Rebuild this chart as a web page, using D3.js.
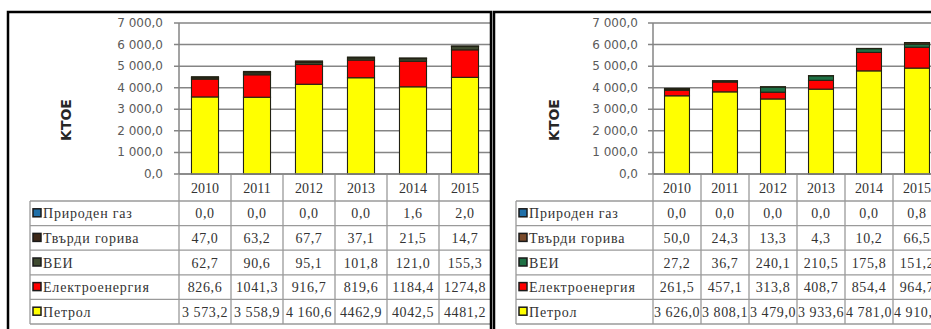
<!DOCTYPE html>
<html>
<head>
<meta charset="utf-8">
<script src="https://cdn.jsdelivr.net/npm/d3@7"></script>
<style>
  body { margin: 0; background: #fff; }
  svg { display: block; }
</style>
</head>
<body>
<svg id="chart" width="931" height="329"></svg>
<script>
var years = ["2010", "2011", "2012", "2013", "2014", "2015"];
var series = ["Природен газ", "Твърди горива", "ВЕИ", "Електроенергия", "Петрол"];

// left panel
var gasA = [0.0, 0.0, 0.0, 0.0, 1.6, 2.0];
var solidA = [47.0, 63.2, 67.7, 37.1, 21.5, 14.7];
var reA = [62.7, 90.6, 95.1, 101.8, 121.0, 155.3];
var elecA = [826.6, 1041.3, 916.7, 819.6, 1184.4, 1274.8];
var petrolA = [3573.2, 3558.9, 4160.6, 4462.9, 4042.5, 4481.2];
var petrolGroupA = [true, true, true, false, false, false];

// right panel
var gasB = [0.0, 0.0, 0.0, 0.0, 0.0, 0.8];
var solidB = [50.0, 24.3, 13.3, 4.3, 10.2, 66.5];
var reB = [27.2, 36.7, 240.1, 210.5, 175.8, 151.2];
var elecB = [261.5, 457.1, 313.8, 408.7, 854.4, 964.7];
var petrolB = [3626.0, 3808.1, 3479.0, 3933.6, 4781.0, 4910.0];
var petrolGroupB = [true, true, true, true, true, true];

var yTicks = [0, 1000, 2000, 3000, 4000, 5000, 6000, 7000];

var colors = {
  "Природен газ": "#1f6fa8",
  "Твърди горива": "#6b3f22",
  "ВЕИ": "#2c6a45",
  "Електроенергия": "#ff0000",
  "Петрол": "#ffff00"
};

var loc = d3.formatLocale({decimal: ",", thousands: "\u00a0", grouping: [3], currency: ["", ""]});
var fmtTick = loc.format(",.1f");
var fmtPlain = loc.format(".1f");

var svg = d3.select("#chart");

var y = d3.scaleLinear().domain([0, 7000]).range([174, 23]);

function panel(opt) {
  var g = svg.append("g");
  var x = d3.scaleBand().domain(years)
    .range([opt.x0, opt.x0 + years.length * opt.step])
    .paddingInner(0.48).paddingOuter(0.24);

  // gridlines
  g.selectAll(".grid").data(yTicks).enter().append("line")
    .attr("x1", opt.x0 - 5).attr("x2", opt.x0 + years.length * opt.step)
    .attr("y1", function(d) { return y(d); }).attr("y2", function(d) { return y(d); })
    .attr("stroke", "#858585").attr("stroke-width", 1.5);
  g.append("line")
    .attr("x1", opt.x0).attr("x2", opt.x0)
    .attr("y1", y(7000)).attr("y2", y(0))
    .attr("stroke", "#858585").attr("stroke-width", 1.5);

  // y labels
  g.selectAll(".yl").data(yTicks).enter().append("text")
    .attr("x", opt.labelX).attr("y", function(d) { return y(d) + 4; })
    .attr("text-anchor", "end")
    .style("font-family", "DejaVu Sans").style("font-size", "12px")
    .attr("fill", "#5a5a5a")
    .text(function(d) { return fmtTick(d); });

  g.append("text")
    .attr("transform", "translate(" + opt.titleX + ",120) rotate(-90)")
    .attr("text-anchor", "middle")
    .style("font-family", "DejaVu Sans").style("font-size", "14px").style("font-weight", "bold")
    .attr("fill", "#262626")
    .text("KTOE");

  // stacked bars
  var rows = years.map(function(yr, i) {
    var o = {year: yr};
    series.forEach(function(s) { o[s] = opt.data[s][i]; });
    return o;
  });
  var order = series.slice().reverse();
  var stack = d3.stack().keys(order)(rows);
  g.selectAll(".layer").data(stack).enter().append("g")
    .attr("fill", function(d) { return opt.colors[d.key]; })
    .selectAll("rect").data(function(d) { return d; }).enter().append("rect")
    .attr("x", function(d) { return x(d.data.year); })
    .attr("width", x.bandwidth())
    .attr("y", function(d) { return y(d[1]); })
    .attr("height", function(d) { return y(d[0]) - y(d[1]); })
    .attr("stroke", "#222214").attr("stroke-width", 1.1);

  // data table
  var lineColor = "#9a9a9a";
  var headTop = 174, headBottom = 201, rowH = 24.6;
  var right = opt.x0 + years.length * opt.step;
  var tableBottom = headBottom + series.length * rowH;
  var cols = d3.range(years.length + 1).map(function(i) { return opt.x0 + i * opt.step; });

  g.selectAll(".vcol").data(cols).enter().append("line")
    .attr("x1", function(d) { return d; }).attr("x2", function(d) { return d; })
    .attr("y1", headTop).attr("y2", tableBottom)
    .attr("stroke", lineColor).attr("stroke-width", 1.3);
  g.append("line")
    .attr("x1", opt.tableX).attr("x2", opt.tableX)
    .attr("y1", headBottom).attr("y2", tableBottom)
    .attr("stroke", lineColor).attr("stroke-width", 1.3);
  g.selectAll(".hrow").data(d3.range(series.length + 1)).enter().append("line")
    .attr("x1", opt.tableX).attr("x2", right)
    .attr("y1", function(i) { return headBottom + i * rowH; })
    .attr("y2", function(i) { return headBottom + i * rowH; })
    .attr("stroke", lineColor).attr("stroke-width", 1.3);
  g.append("line")
    .attr("x1", opt.x0).attr("x2", right).attr("y1", headTop).attr("y2", headTop)
    .attr("stroke", "#858585").attr("stroke-width", 1.5);

  var serif = "Liberation Serif";
  g.selectAll(".yh").data(years).enter().append("text")
    .attr("x", function(d) { return x(d) + x.bandwidth() / 2; })
    .attr("y", (headTop + headBottom) / 2 + 5)
    .attr("text-anchor", "middle")
    .style("font-family", serif).style("font-size", "14px")
    .attr("fill", "#333")
    .text(function(d) { return d; });

  series.forEach(function(s, r) {
    var cy = headBottom + r * rowH + rowH / 2;
    g.append("rect")
      .attr("x", opt.tableX + 3).attr("y", cy - 4.5)
      .attr("width", 8).attr("height", 8)
      .attr("fill", opt.colors[s]).attr("stroke", "#1a1a1a").attr("stroke-width", 1.5);
    g.append("text")
      .attr("x", opt.tableX + 13).attr("y", cy + 5)
      .style("font-family", serif).style("font-size", "14px")
      .style("letter-spacing", "0.8px")
      .attr("fill", "#333")
      .text(s);
    opt.data[s].forEach(function(v, i) {
      var grouped = s === "Петрол" && opt.petrolGroup[i];
      g.append("text")
        .attr("x", x(years[i]) + x.bandwidth() / 2).attr("y", cy + 5)
        .attr("text-anchor", "middle")
        .style("font-family", serif).style("font-size", "14px")
        .style("letter-spacing", "0.6px")
        .attr("fill", "#333")
        .text(grouped ? fmtTick(v) : fmtPlain(v));
    });
  });

  // frame
  svg.append("rect")
    .attr("x", opt.frameX).attr("y", 12)
    .attr("width", opt.frameW).attr("height", 340)
    .attr("fill", "none").attr("stroke", "#000").attr("stroke-width", 2.5);
}

var leftData = {"Природен газ": gasA, "Твърди горива": solidA, "ВЕИ": reA, "Електроенергия": elecA, "Петрол": petrolA};
var rightData = {"Природен газ": gasB, "Твърди горива": solidB, "ВЕИ": reB, "Електроенергия": elecB, "Петрол": petrolB};

panel({x0: 179, step: 52, labelX: 163, titleX: 71, tableX: 30, frameX: 8, frameW: 483,
  data: leftData, petrolGroup: petrolGroupA,
  colors: Object.assign({}, colors, {"Твърди горива": "#3e2818", "ВЕИ": "#3f4a30"})});
panel({x0: 653, step: 48, labelX: 638, titleX: 559, tableX: 516, frameX: 494, frameW: 460,
  data: rightData, petrolGroup: petrolGroupB,
  colors: Object.assign({}, colors, {"Твърди горива": "#7a4a2a", "ВЕИ": "#1e7044"})});
</script>
</body>
</html>
